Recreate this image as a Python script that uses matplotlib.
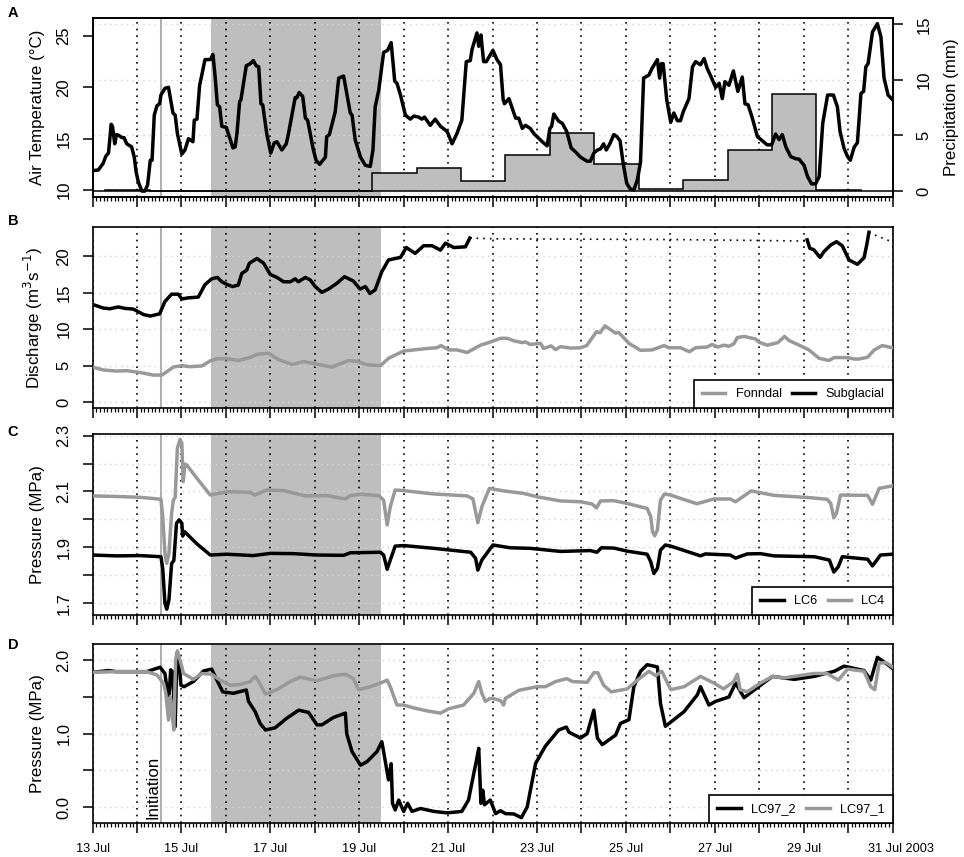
#!/usr/bin/env python
# -*- coding: utf-8 -*-

import numpy as np
import matplotlib
matplotlib.use("Agg")
import matplotlib.pyplot as plt
from matplotlib.transforms import ScaledTranslation

plt.rcParams['font.family'] = ['Liberation Sans', 'DejaVu Sans']

# all x values are days since 13 Jul 2003 00:00
temp_day = [0.00,0.13,0.24,0.30,0.36,0.42,0.45,0.50,0.54,0.60,0.66,0.71,0.77,0.88,0.94,0.98,1.03,1.11,1.18,1.24,1.30,1.34,1.39,1.45,1.51,1.54,1.63,1.71,1.81,1.86,1.91,2.01,2.08,2.16,2.26,2.29,2.35,2.41,2.46,2.53,2.65,2.71,2.76,2.81,2.86,2.91,3.01,3.10,3.16,3.21,3.25,3.31,3.34,3.46,3.55,3.62,3.68,3.74,3.79,3.83,3.92,4.01,4.09,4.15,4.26,4.36,4.41,4.56,4.60,4.65,4.73,4.79,4.84,4.97,5.03,5.11,5.24,5.27,5.33,5.46,5.54,5.65,5.80,5.84,5.91,6.03,6.14,6.25,6.31,6.36,6.44,6.55,6.64,6.72,6.80,6.85,6.93,7.04,7.15,7.23,7.34,7.41,7.47,7.60,7.71,7.83,7.98,8.09,8.20,8.31,8.41,8.50,8.54,8.65,8.69,8.74,8.80,8.86,9.01,9.10,9.18,9.24,9.27,9.37,9.52,9.59,9.67,9.74,9.85,9.93,10.00,10.12,10.23,10.29,10.33,10.38,10.49,10.57,10.67,10.77,10.87,10.98,11.13,11.20,11.28,11.36,11.43,11.50,11.56,11.64,11.73,11.80,11.87,11.94,12.02,12.10,12.18,12.26,12.33,12.40,12.52,12.59,12.71,12.76,12.80,12.84,12.92,13.01,13.08,13.16,13.23,13.29,13.42,13.50,13.57,13.68,13.76,13.83,13.91,14.02,14.10,14.17,14.23,14.32,14.42,14.52,14.62,14.68,14.75,14.84,14.96,15.07,15.18,15.28,15.37,15.45,15.52,15.60,15.71,15.82,15.90,16.01,16.09,16.18,16.27,16.35,16.43,16.54,16.67,16.76,16.82,16.91,16.99,17.05,17.14,17.21,17.29,17.35,17.40,17.45,17.55,17.66,17.74,17.81,17.90,18.00]
temp_val = [11.88,11.95,12.6,13.3,13.6,16.4,16.2,14.5,15.4,15.3,15.1,15.1,14.5,14.2,13.2,11.8,10.8,9.9,9.9,10.5,12.9,12.9,17.3,18.2,18.4,19.25,19.9,20.0,17.5,17.3,15.5,13.5,13.9,15.0,14.7,16.8,16.9,20.2,21.2,22.7,22.7,23.2,21.0,18.3,18.1,16.2,16.1,14.9,14.1,14.2,15.5,18.6,18.8,22.1,22.3,22.6,22.1,22.0,18.4,18.3,15.5,13.6,14.6,14.7,13.9,14.5,15.5,19.0,19.0,19.5,19.1,17.0,16.8,13.9,12.9,12.5,13.2,15.2,15.4,17.6,20.9,21.1,17.5,17.3,14.9,13.2,12.4,12.3,13.9,18.1,19.7,23.4,23.6,24.35,20.6,20.4,19.25,17.3,16.9,17.2,17.1,16.9,17.1,16.3,16.9,16.2,15.7,14.5,15.5,16.8,22.5,22.6,23.7,25.3,24.0,25.1,22.5,22.5,23.6,22.7,22.2,18.8,18.4,18.9,17.0,17.0,16.0,16.3,16.0,15.5,15.2,14.7,14.3,16.0,16.2,17.4,16.7,16.5,15.7,14.1,13.7,13.2,12.8,12.8,13.6,13.9,14.0,14.5,13.9,14.5,15.4,15.2,14.8,12.6,10.65,10.1,10.0,11.0,12.7,20.9,21.2,21.85,22.7,20.9,22.3,22.3,18.8,16.6,17.5,16.75,16.75,17.6,18.9,22.0,22.5,22.2,22.8,21.85,21.1,20.0,20.4,18.9,20.55,20.2,21.6,19.6,21.0,18.4,18.3,17.1,15.2,14.8,14.4,14.4,15.45,14.9,15.4,14.2,13.25,13.05,13.0,12.4,11.3,10.6,10.6,11.3,16.5,19.25,19.25,18.1,15.7,14.05,13.25,12.9,14.2,14.6,19.4,19.6,22.0,22.3,25.4,26.2,24.9,20.9,19.25,18.8]

precip_edges = [0.29,1.29,2.29,3.29,4.29,5.29,6.29,7.29,8.29,9.29,10.29,11.29,12.29,13.29,14.29,15.29,16.29,17.29]
precip_val = [0.1,0,0,0,0,0,1.6,2.1,0.87,3.2,5.2,2.4,0.15,1.0,3.7,8.76,0.1]

subglacial_day = [0,.24,.39,.58,.73,.92,1.15,1.30,1.51,1.63,1.78,1.93,2.01,2.16,2.38,2.53,2.68,2.81,2.91,3.02,3.15,3.28,3.36,3.47,3.53,3.70,3.85,4.00,4.15,4.30,4.45,4.56,4.63,4.79,4.90,5.01,5.16,5.31,5.50,5.67,5.87,6.02,6.14,6.24,6.36,6.51,6.66,6.93,7.06,7.26,7.45,7.64,7.83,7.94,8.13,8.39,8.49]
subglacial_val = [13.4,12.9,12.8,13.05,12.85,12.75,12.0,11.8,12.1,13.8,14.8,14.8,14.15,14.3,14.4,16.1,16.9,17.1,16.5,16.15,15.85,16.05,17.65,18.1,19.05,19.7,19.05,17.5,17.1,16.5,16.5,16.9,16.5,17.1,16.75,15.85,15.05,15.5,16.3,17.2,16.6,15.5,15.85,14.9,15.4,17.9,19.5,19.85,21.2,20.4,21.45,21.45,20.85,21.8,21.2,21.3,22.5]
subglacial2_day = [16.08,16.14,16.23,16.37,16.46,16.61,16.74,16.87,17.02,17.21,17.36,17.42,17.47]
subglacial2_val = [22.25,21.1,20.9,19.85,20.65,21.55,22.0,21.45,19.5,18.9,19.8,21.55,23.3]
gapfill_day = [8.49,9.03,13.0,16.01,16.08]
gapfill_val = [22.5,22.4,22.3,22.1,22.25]
gapfill2_day = [17.47,17.51,17.98]
gapfill2_val = [23.3,23.15,22.0]

fonndal_day = [0,.24,.54,.77,1.07,1.37,1.56,1.67,1.82,2.01,2.19,2.46,2.65,2.80,3.02,3.28,3.54,3.70,3.96,4.18,4.49,4.75,5.05,5.39,5.76,5.95,6.18,6.48,6.66,7.0,7.23,7.53,7.75,7.84,8.02,8.2,8.43,8.73,9.01,9.18,9.33,9.48,9.67,9.74,9.85,10.08,10.15,10.32,10.42,10.53,10.76,10.98,11.12,11.34,11.42,11.53,11.77,11.84,12.07,12.33,12.59,12.86,12.97,13.23,13.43,13.57,13.83,13.94,14.07,14.21,14.32,14.43,14.51,14.66,14.92,15.0,15.18,15.42,15.57,15.67,15.97,16.12,16.35,16.57,16.69,16.99,17.14,17.25,17.44,17.59,17.77,18]
fonndal_val = [4.8,4.4,4.25,4.3,4.05,3.7,3.7,4.15,4.8,5.0,4.85,4.95,5.65,5.95,5.95,5.7,6.1,6.55,6.7,5.85,5.15,5.55,5.2,4.8,5.7,5.6,5.1,5.0,6.0,7.0,7.15,7.35,7.45,7.75,7.15,7.15,6.8,7.8,8.35,8.75,8.75,8.4,8.15,8.25,7.9,8.05,7.35,7.7,7.2,7.6,7.4,7.45,7.75,9.65,9.5,10.45,9.45,9.55,8.05,7.1,7.15,7.75,7.45,7.45,6.9,7.45,7.55,7.9,7.55,7.8,7.65,8.0,8.85,9.0,8.65,8.2,7.8,8.15,9.0,8.45,7.6,7.15,6.0,5.7,6.1,6.1,5.9,5.9,6.15,7.15,7.75,7.45]

lc4_day = [0,.54,1.07,1.54,1.58,1.63,1.67,1.72,1.78,1.82,1.86,1.91,1.97,2.01,2.04,2.08,2.12,2.35,2.65,3.02,3.55,3.64,3.92,4.30,4.79,5.28,5.69,5.80,6.03,6.44,6.55,6.63,6.70,6.81,7.00,7.68,8.43,8.56,8.67,8.76,8.93,9.25,9.70,10.0,10.53,10.98,11.24,11.34,11.43,11.73,12.03,12.48,12.56,12.6,12.65,12.71,12.78,12.87,13.01,13.23,13.6,13.98,14.35,14.47,14.82,15.33,16.12,16.53,16.61,16.68,16.74,16.83,17.44,17.55,17.70,18]
lc4_val = [2.084,2.082,2.079,2.072,2.01,1.878,1.842,1.878,2.022,2.069,2.079,2.255,2.287,2.273,2.135,2.198,2.195,2.147,2.087,2.099,2.097,2.087,2.105,2.103,2.084,2.085,2.073,2.085,2.09,2.085,2.069,1.98,2.045,2.105,2.103,2.091,2.084,2.073,1.988,2.045,2.111,2.102,2.093,2.081,2.066,2.063,2.055,2.041,2.066,2.067,2.057,2.039,2.01,1.956,1.941,1.962,2.069,2.091,2.087,2.075,2.056,2.073,2.073,2.063,2.102,2.086,2.078,2.072,2.057,2.006,2.022,2.087,2.086,2.054,2.111,2.12]
lc6_day = [0,.54,1.07,1.54,1.58,1.63,1.67,1.72,1.78,1.83,1.89,1.95,2.01,2.03,2.07,2.35,2.65,3.02,3.62,4.0,4.52,5.05,5.65,5.80,6.48,6.55,6.63,6.70,6.81,7.0,7.68,8.51,8.62,8.67,8.76,9.01,9.4,9.85,10.53,11.2,11.35,11.45,11.73,12.03,12.48,12.56,12.63,12.71,12.78,12.89,13.01,13.68,13.79,14.35,14.47,14.73,15.03,15.33,16.24,16.58,16.68,16.78,16.87,17.44,17.55,17.73,18]
lc6_val = [1.872,1.869,1.87,1.866,1.824,1.699,1.678,1.711,1.842,1.852,1.986,1.998,1.986,1.94,1.956,1.912,1.872,1.875,1.87,1.878,1.877,1.872,1.871,1.88,1.882,1.872,1.821,1.854,1.904,1.906,1.896,1.882,1.86,1.818,1.854,1.908,1.898,1.896,1.885,1.888,1.882,1.898,1.897,1.886,1.875,1.848,1.806,1.824,1.89,1.908,1.904,1.869,1.876,1.872,1.861,1.876,1.877,1.869,1.866,1.854,1.811,1.83,1.866,1.857,1.833,1.872,1.875]

lc97_1_day = [0,.54,1.22,1.45,1.6,1.65,1.71,1.75,1.78,1.83,1.87,1.91,1.97,2.05,2.27,2.46,2.68,2.87,3.1,3.32,3.55,3.66,3.74,3.89,4.15,4.45,4.67,5.05,5.42,5.69,5.87,5.99,6.25,6.48,6.63,6.7,6.85,7,7.23,7.53,7.83,8.02,8.35,8.58,8.69,8.76,8.84,8.95,9.01,9.18,9.25,9.29,9.59,10,10.19,10.42,10.67,10.8,11.13,11.28,11.37,11.5,11.67,12.03,12.26,12.52,12.67,12.81,13.01,13.31,13.68,13.98,14.2,14.43,14.51,14.57,14.73,15.03,15.3,15.56,16.23,16.53,16.78,16.99,17.36,17.51,17.6,17.7,17.85,18]
lc97_1_val = [1.836,1.845,1.845,1.8,1.686,1.55,1.186,1.505,1.32,1.05,2.005,2.13,2.0,1.82,1.74,1.82,1.81,1.73,1.66,1.67,1.71,1.78,1.71,1.54,1.6,1.71,1.77,1.72,1.79,1.81,1.75,1.6,1.64,1.69,1.73,1.64,1.39,1.39,1.35,1.31,1.28,1.34,1.39,1.55,1.71,1.55,1.44,1.48,1.48,1.45,1.39,1.48,1.59,1.64,1.64,1.71,1.75,1.71,1.7,1.83,1.83,1.66,1.57,1.61,1.73,1.85,1.79,1.85,1.6,1.64,1.78,1.69,1.61,1.71,1.81,1.6,1.57,1.69,1.78,1.76,1.82,1.82,1.73,1.88,1.85,1.64,1.6,1.96,1.97,1.91]
lc97_2_day = [0,.36,.54,1.22,1.52,1.63,1.69,1.72,1.76,1.8,1.86,1.9,1.95,1.99,2.06,2.27,2.5,2.68,2.8,2.93,3.17,3.46,3.51,3.66,3.77,3.89,4.11,4.37,4.64,4.86,5.05,5.16,5.42,5.69,5.72,5.84,6.03,6.18,6.4,6.51,6.55,6.66,6.72,6.75,6.81,6.89,7,7.09,7.19,7.38,7.68,7.98,8.31,8.46,8.58,8.64,8.69,8.74,8.78,8.82,8.95,9.07,9.18,9.29,9.48,9.65,9.78,9.97,10.19,10.49,10.66,10.72,10.98,11.13,11.28,11.36,11.47,11.77,11.88,12.07,12.18,12.33,12.48,12.71,12.78,12.89,13.31,13.61,13.68,13.87,14.02,14.32,14.47,14.66,15.03,15.3,15.79,16.23,16.69,16.91,17.36,17.51,17.66,17.85,18]
lc97_2_val = [1.836,1.86,1.845,1.845,1.905,1.82,1.55,1.505,1.87,1.845,1.095,2.095,1.96,1.66,1.64,1.71,1.855,1.88,1.73,1.57,1.55,1.595,1.44,1.3,1.14,1.05,1.08,1.21,1.32,1.29,1.12,1.12,1.22,1.28,1.0,0.755,0.57,0.62,0.755,0.89,0.755,0.37,0.59,0.05,-0.04,0.095,-0.06,0.05,-0.06,-0.02,-0.06,-0.08,-0.06,0.095,0.46,0.64,0.8,0.05,0.23,0.03,0.095,-0.09,-0.05,-0.09,-0.095,-0.145,0.0,0.595,0.83,1.05,1.09,1.02,0.94,1.0,1.32,0.94,0.85,0.98,1.14,1.19,1.64,1.85,1.94,1.91,1.41,1.1,1.3,1.53,1.64,1.39,1.44,1.5,1.69,1.49,1.66,1.78,1.74,1.78,1.85,1.92,1.86,1.73,2.04,1.96,1.89]

date_days = [0,2,4,6,8,10,12,14,16,18]
date_labels = ['13 Jul','15 Jul','17 Jul','19 Jul','21 Jul','23 Jul','25 Jul','27 Jul','29 Jul','31 Jul 2003']
initiation_day = 1.55
shade_start = 2.67
shade_end = 6.5

BLACK = 'black'
GRAY = '#999999'
SHADE = '#bebebe'
DOT = (0, (1, 3))
LW = 2.5
W, H = 964.0, 857.0


def panel(left, top, right, bottom):
    return plt.gcf().add_axes([left/W, 1-bottom/H, (right-left)/W, (bottom-top)/H])


def style_x(ax, labels=False):
    ax.set_xlim(0, 18)
    ax.set_xticks(np.arange(0, 19))
    ax.set_xticks(np.arange(0, 18.01, 1/12.0), minor=True)
    ax.tick_params(axis='x', which='major', length=7.5, width=1.1)
    ax.tick_params(axis='x', which='minor', length=2.6, width=0.9)
    ax.grid(axis='x', which='major', color=BLACK, linestyle=DOT, linewidth=1.2)
    ax.set_axisbelow(True)
    if labels:
        ax.set_xticks(np.arange(0, 19), minor=False,
                      labels=[date_labels[date_days.index(d)] if d in date_days else '' for d in range(19)],
                      fontsize=9.2)
        ax.tick_params(axis='x', which='major', pad=7)
    else:
        ax.set_xticklabels([])
    ax.axvspan(shade_start, shade_end, color=SHADE, lw=0, zorder=0.2)
    ax.axvline(initiation_day, color='#b0b0b0', lw=1.5, zorder=0.6)


def style_y(ax, ticks, labels, gridticks=True, pad=8):
    ax.set_yticks(ticks, labels=labels)
    ax.tick_params(axis='y', length=7.2, width=1.1, labelsize=12, pad=pad)
    for tick in ax.yaxis.get_major_ticks():
        for t in (tick.label1, tick.label2):
            t.set_rotation(90)
            t.set_va('center')
    if gridticks:
        ax.grid(axis='y', color='#d3d3d3', linestyle=DOT, linewidth=1.0)


def heavy(ax):
    for s in ax.spines.values():
        s.set_linewidth(1.2)


def legend(ax, handles):
    leg = ax.legend(handles=handles, loc='lower right', ncol=2, fontsize=9.2, fancybox=False,
                    framealpha=1, edgecolor=BLACK, borderaxespad=0, borderpad=0.62,
                    handlelength=1.85, handletextpad=0.8, columnspacing=0.8)
    leg.get_frame().set_linewidth(1.2)
    leg.set_zorder(10)


fig = plt.figure(figsize=(9.64, 8.57), dpi=100)
LEFT, RIGHT = 92.5, 892.5

# A - precipitation sits on the lower axes so that the bars cover the grid
axp = panel(LEFT, 17.7, RIGHT, 197)
style_x(axp)
axp.stairs(precip_val, precip_edges, baseline=0, fill=True, color=SHADE, lw=0, zorder=2)
axp.stairs(precip_val, precip_edges, baseline=0, color=BLACK, lw=1.1, zorder=2.2)
axp.axhline(0, color=BLACK, lw=1.1, zorder=2.5)
axp.set_ylim(-0.54, 15.6)
axt = axp.twinx()
axp.yaxis.tick_right()
axp.yaxis.set_label_position('right')
style_y(axp, [0, 5, 10, 15], ['0', '5', '10', '15'], pad=10)
axp.set_ylabel('Precipitation (mm)', fontsize=12.2, labelpad=9)
axt.yaxis.tick_left()
axt.yaxis.set_label_position('left')
axt.plot(temp_day, temp_val, color=BLACK, lw=LW, solid_joinstyle='round', zorder=3)
axt.set_ylim(9.32, 26.78)
style_y(axt, [10, 15, 20, 25], ['10', '15', '20', '25'], gridticks=False)
axt.set_ylabel('Air Temperature (°C)', fontsize=12.2, labelpad=8)
heavy(axp)
heavy(axt)

# B
axb = panel(LEFT, 227, RIGHT, 408.3)
style_x(axb)
l_f, = axb.plot(fonndal_day, fonndal_val, color=GRAY, lw=LW, label='Fonndal', zorder=3)
l_s, = axb.plot(subglacial_day, subglacial_val, color=BLACK, lw=LW, label='Subglacial', zorder=3)
axb.plot(subglacial2_day, subglacial2_val, color=BLACK, lw=LW, zorder=3)
axb.plot(gapfill_day, gapfill_val, color=BLACK, lw=1.2, linestyle=DOT, zorder=3)
axb.plot(gapfill2_day, gapfill2_val, color=BLACK, lw=1.2, linestyle=DOT, zorder=3)
axb.set_ylim(-0.86, 24.02)
style_y(axb, [0, 5, 10, 15, 20], ['0', '5', '10', '15', '20'])
axb.set_ylabel('Discharge (m$^{3}$s$^{-1}$)', fontsize=12.2, labelpad=8)
legend(axb, [l_f, l_s])
heavy(axb)

# C
axc = panel(LEFT, 434, RIGHT, 615)
style_x(axc)
l_6, = axc.plot(lc6_day, lc6_val, color=BLACK, lw=LW, label='LC6', zorder=3)
l_4, = axc.plot(lc4_day, lc4_val, color=GRAY, lw=LW, label='LC4', zorder=3)
axc.set_ylim(1.657, 2.306)
style_y(axc, [1.7, 1.8, 1.9, 2.0, 2.1, 2.2, 2.3], ['1.7', '', '1.9', '', '2.1', '', '2.3'])
axc.set_ylabel('Pressure (MPa)', fontsize=12.2, labelpad=8)
legend(axc, [l_6, l_4])
heavy(axc)

# D
axd = panel(LEFT, 644, RIGHT, 823.3)
style_x(axd, labels=True)
l_2, = axd.plot(lc97_2_day, lc97_2_val, color=BLACK, lw=LW, label='LC97_2', zorder=3)
l_1, = axd.plot(lc97_1_day, lc97_1_val, color=GRAY, lw=LW, label='LC97_1', zorder=3.1)
axd.set_ylim(-0.222, 2.222)
style_y(axd, [0, 0.5, 1.0, 1.5, 2.0], ['0.0', '', '1.0', '', '2.0'])
axd.set_ylabel('Pressure (MPa)', fontsize=12.2, labelpad=8)
axd.text(initiation_day-0.02, -0.17, 'Initiation', rotation=90, ha='right', va='bottom', fontsize=12.2)
legend(axd, [l_2, l_1])
heavy(axd)
# the last date label sits a little right of its tick in the original
last = axd.get_xticklabels()[18]
last.set_transform(last.get_transform() + ScaledTranslation(8/100.0, 0, fig.dpi_scale_trans))

for letter, y in zip('ABCD', [13, 221, 432, 645]):
    fig.text(13/W, 1-y/H, letter, fontsize=10.5, fontweight='bold', ha='center', va='center')

fig.savefig('out.png', dpi=100)
